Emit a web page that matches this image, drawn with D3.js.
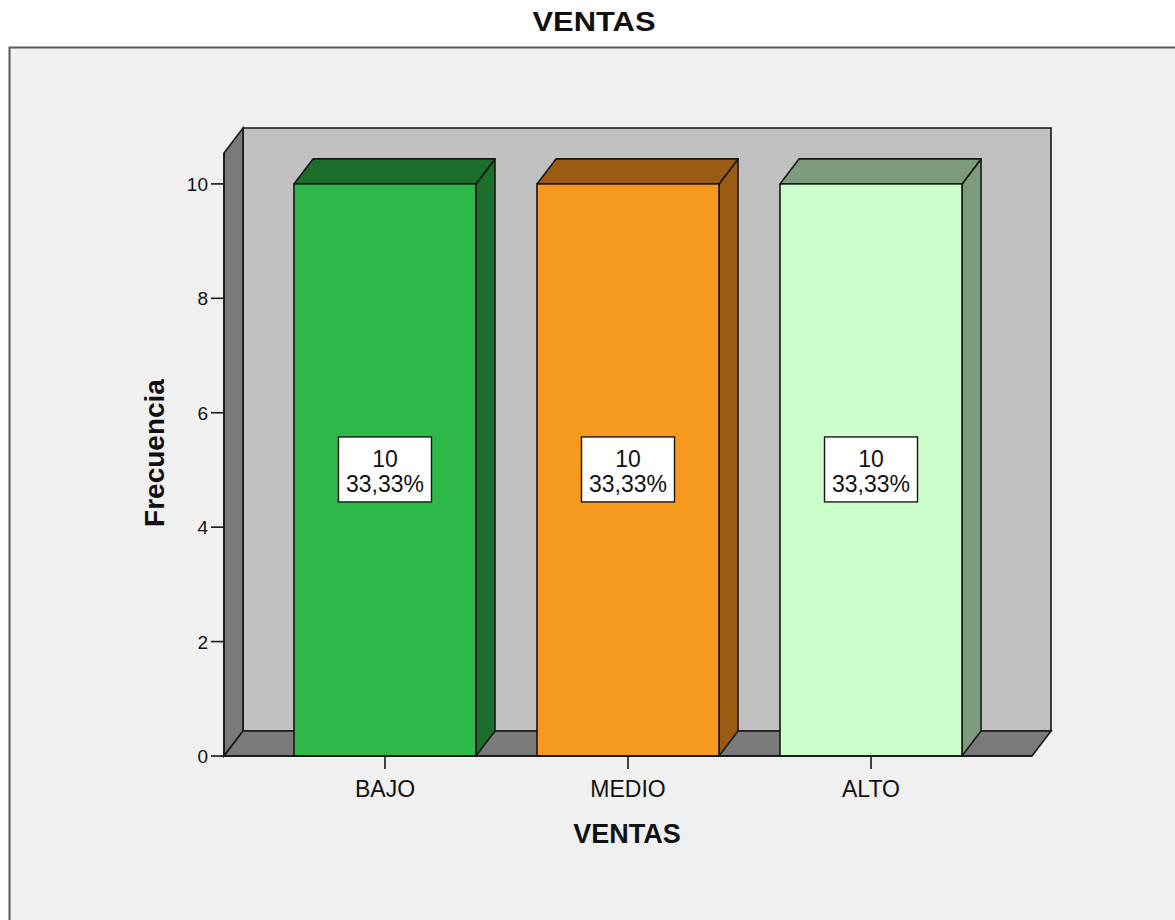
<!DOCTYPE html>
<html>
<head>
<meta charset="utf-8">
<script src="https://cdn.jsdelivr.net/npm/d3@7"></script>
<style>
  html, body { margin: 0; padding: 0; background: #ffffff; }
  svg { display: block; }
  text { font-family: "Liberation Sans", Arial, sans-serif; fill: #111; }
</style>
</head>
<body>
<svg id="chart" width="1175" height="920"></svg>
<script>
// Frequency table for VENTAS
const categories = ["BAJO", "MEDIO", "ALTO"];
const counts = [10, 10, 10];
const percents = ["33,33%", "33,33%", "33,33%"];
const yTicks = [0, 2, 4, 6, 8, 10];
const frontColors = ["#2eb84a", "#f7981f", "#ccffcc"];
const sideColors = ["#1b6e2c", "#9a5c13", "#7d9c7d"];

const svg = d3.select("#chart");
const W = 1175, H = 920;

// Panel background and frame
svg.append("rect").attr("x", 0).attr("y", 0).attr("width", W).attr("height", H).attr("fill", "#ffffff");
svg.append("rect")
  .attr("x", 9.5).attr("y", 47.5).attr("width", W + 20).attr("height", H + 20)
  .attr("fill", "#f0f0f0").attr("stroke", "#5a5a5a").attr("stroke-width", 2);

// Plot geometry (front plane) and depth offset of the 3-D box
const x0 = 224, x1 = 1032;
const axisMax = 10.54;
const dx = 19, dy = -25;

const y = d3.scaleLinear().domain([0, axisMax]).range([756, 153]);
const x = d3.scaleBand().domain(categories).range([x0, x1])
  .paddingInner(0.251).paddingOuter(0.288);

const stroke = "#161616", sw = 1.6;
const poly = pts => "M" + pts.map(p => p.join(",")).join("L") + "Z";

const yBase = y(0), yTopAxis = y(axisMax);

// Back wall
svg.append("path")
  .attr("d", poly([[x0 + dx, yTopAxis + dy], [x1 + dx, yTopAxis + dy], [x1 + dx, yBase + dy], [x0 + dx, yBase + dy]]))
  .attr("fill", "#c0c0c0").attr("stroke", stroke).attr("stroke-width", sw);

// Left side wall
svg.append("path")
  .attr("d", poly([[x0, yTopAxis], [x0 + dx, yTopAxis + dy], [x0 + dx, yBase + dy], [x0, yBase]]))
  .attr("fill", "#7a7a7a").attr("stroke", stroke).attr("stroke-width", sw);

// Floor
svg.append("path")
  .attr("d", poly([[x0, yBase], [x0 + dx, yBase + dy], [x1 + dx, yBase + dy], [x1, yBase]]))
  .attr("fill", "#7a7a7a").attr("stroke", stroke).attr("stroke-width", sw);

// Bars
const bars = svg.append("g").selectAll("g").data(categories).join("g");
bars.each(function (c, i) {
  const g = d3.select(this);
  const bx = x(c), bw = x.bandwidth();
  const top = y(counts[i]);
  // right side face
  g.append("path")
    .attr("d", poly([[bx + bw, top], [bx + bw + dx, top + dy], [bx + bw + dx, yBase + dy], [bx + bw, yBase]]))
    .attr("fill", sideColors[i]).attr("stroke", stroke).attr("stroke-width", sw).attr("stroke-linejoin", "round");
  // top face
  g.append("path")
    .attr("d", poly([[bx, top], [bx + dx, top + dy], [bx + bw + dx, top + dy], [bx + bw, top]]))
    .attr("fill", sideColors[i]).attr("stroke", stroke).attr("stroke-width", sw).attr("stroke-linejoin", "round");
  // front face
  g.append("rect")
    .attr("x", bx).attr("y", top).attr("width", bw).attr("height", yBase - top)
    .attr("fill", frontColors[i]).attr("stroke", stroke).attr("stroke-width", sw);
});

// Value labels
bars.each(function (c, i) {
  const g = d3.select(this);
  const cx = x(c) + x.bandwidth() / 2;
  const cy = y(counts[i] / 2);
  g.append("rect")
    .attr("x", cx - 46.5).attr("y", cy - 33).attr("width", 93).attr("height", 65)
    .attr("fill", "#ffffff").attr("stroke", stroke).attr("stroke-width", 1.4);
  g.append("text").attr("x", cx).attr("y", cy - 3).attr("text-anchor", "middle")
    .attr("font-size", 23).text(counts[i]);
  g.append("text").attr("x", cx).attr("y", cy + 22).attr("text-anchor", "middle")
    .attr("font-size", 23).text(percents[i]);
});

// Y axis ticks and labels
const yAxis = svg.append("g");
yTicks.forEach(t => {
  yAxis.append("line").attr("x1", x0 - 13).attr("x2", x0).attr("y1", y(t)).attr("y2", y(t))
    .attr("stroke", stroke).attr("stroke-width", sw);
  yAxis.append("text").attr("x", x0 - 16).attr("y", y(t) + 7).attr("text-anchor", "end")
    .attr("font-size", 19).text(t);
});
// front axis edge
yAxis.append("line").attr("x1", x0).attr("x2", x0).attr("y1", yTopAxis).attr("y2", yBase)
  .attr("stroke", stroke).attr("stroke-width", sw);

// X axis ticks and category labels
const xAxis = svg.append("g");
categories.forEach(c => {
  const cx = x(c) + x.bandwidth() / 2;
  xAxis.append("line").attr("x1", cx).attr("x2", cx).attr("y1", yBase).attr("y2", yBase + 13)
    .attr("stroke", stroke).attr("stroke-width", sw);
  xAxis.append("text").attr("x", cx).attr("y", yBase + 41).attr("text-anchor", "middle")
    .attr("font-size", 23).text(c);
});
xAxis.append("line").attr("x1", x0).attr("x2", x1).attr("y1", yBase).attr("y2", yBase)
  .attr("stroke", stroke).attr("stroke-width", sw);

// Titles
svg.append("text").attr("x", 594).attr("y", 31).attr("text-anchor", "middle")
  .attr("font-size", 28).attr("font-weight", "bold")
  .attr("textLength", 123).attr("lengthAdjust", "spacingAndGlyphs").text("VENTAS");
svg.append("text").attr("x", 627).attr("y", 843).attr("text-anchor", "middle")
  .attr("font-size", 27).attr("font-weight", "bold").text("VENTAS");
svg.append("text").attr("transform", "translate(164,453) rotate(-90)").attr("text-anchor", "middle")
  .attr("font-size", 28).attr("font-weight", "bold").text("Frecuencia");
</script>
</body>
</html>
